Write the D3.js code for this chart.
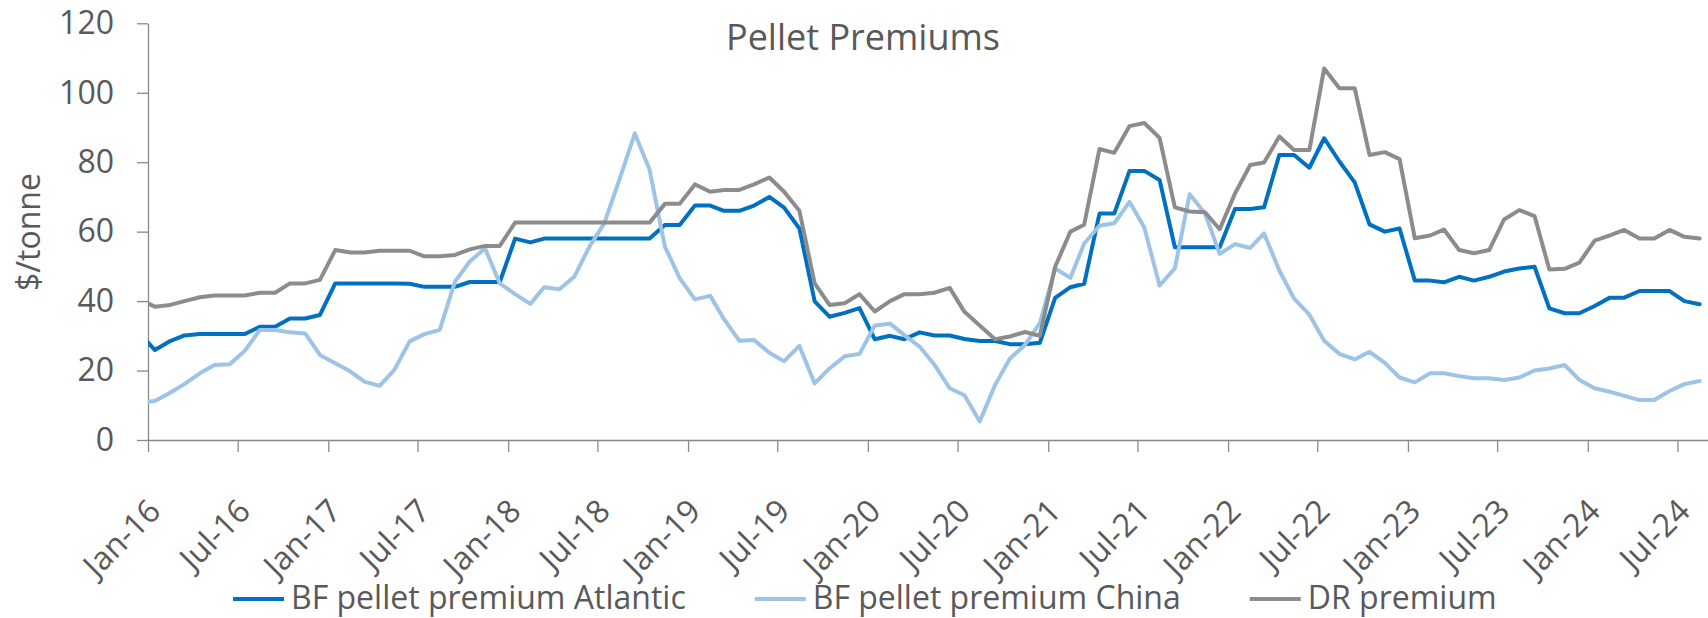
<!DOCTYPE html>
<html>
<head>
<meta charset="utf-8">
<script src="https://cdn.jsdelivr.net/npm/d3@7"></script>
<style>
  body { margin: 0; background: #fff; }
  text { font-family: "Open Sans", sans-serif; fill: #595959; }
</style>
</head>
<body>
<svg id="chart" width="1708" height="618"></svg>
<script>
"use strict";

// monthly values, mid-month, first value is Dec-15 (clipped by the axis)
var firstMonth = new Date(2015, 11, 15);

var atlantic = [30.7,
  25.9, 28.5, 30.1, 30.5, 30.5, 30.5, 30.5, 32.6, 32.6, 35.0, 35.0, 36.0,
  45.1, 45.1, 45.1, 45.1, 45.1, 45.0, 44.1, 44.1, 44.1, 45.5, 45.5, 45.5,
  58.0, 56.9, 58.0, 58.0, 58.0, 58.0, 58.0, 58.0, 58.0, 58.0, 61.9, 61.9,
  67.5, 67.5, 66.0, 66.0, 67.5, 70.0, 66.9, 60.9, 39.9, 35.5, 36.6, 38.0,
  29.0, 30.0, 29.0, 31.0, 30.1, 30.1, 29.1, 28.5, 28.5, 27.6, 27.6, 28.0,
  40.9, 44.0, 45.0, 65.2, 65.2, 77.5, 77.5, 74.9, 55.5, 55.5, 55.5, 55.5,
  66.5, 66.5, 67.0, 82.1, 82.1, 78.4, 86.9, 80.2, 74.2, 62.1, 60.0, 60.9,
  45.9, 45.9, 45.4, 47.0, 45.9, 47.0, 48.5, 49.4, 49.9, 37.9, 36.5, 36.5,
  38.6, 41.0, 41.0, 42.9, 42.9, 42.9, 40.0, 39.1];

var china = [10.8,
  11.2, 13.6, 16.1, 19.2, 21.6, 21.8, 25.6, 31.7, 31.7, 31.0, 30.7, 24.5,
  22.1, 19.7, 16.8, 15.6, 20.2, 28.4, 30.5, 31.7, 45.6, 51.4, 55.2, 45.1,
  42.0, 39.2, 44.0, 43.4, 47.0, 55.7, 62.4, 75.1, 88.3, 77.8, 55.7, 46.6,
  40.5, 41.5, 34.8, 28.6, 28.8, 25.1, 22.7, 27.1, 16.3, 20.6, 24.1, 24.8,
  33.0, 33.5, 30.2, 26.9, 21.7, 14.9, 12.9, 5.3, 15.8, 23.4, 27.4, 33.7,
  49.4, 46.7, 56.6, 61.7, 62.4, 68.6, 61.2, 44.5, 49.4, 70.8, 65.3, 53.6,
  56.4, 55.3, 59.5, 48.8, 40.7, 36.1, 28.6, 24.8, 23.2, 25.4, 22.2, 18.0,
  16.6, 19.2, 19.2, 18.4, 17.8, 17.8, 17.3, 18.0, 20.0, 20.6, 21.6, 17.3,
  14.9, 13.9, 12.7, 11.5, 11.5, 14.1, 16.1, 17.0];

var drPremium = [40.4,
  38.4, 38.9, 40.0, 41.1, 41.6, 41.6, 41.6, 42.4, 42.4, 45.1, 45.1, 46.1,
  54.7, 54.0, 54.0, 54.5, 54.5, 54.5, 52.9, 52.9, 53.3, 54.9, 55.9, 55.9,
  62.6, 62.6, 62.6, 62.6, 62.6, 62.6, 62.6, 62.6, 62.6, 62.6, 68.0, 68.0,
  73.6, 71.5, 72.0, 72.0, 73.6, 75.6, 71.5, 66.0, 45.1, 38.9, 39.4, 42.0,
  37.0, 40.0, 42.0, 42.0, 42.4, 43.8, 36.9, 33.0, 29.0, 29.8, 31.1, 30.0,
  49.9, 60.0, 62.0, 83.8, 82.7, 90.4, 91.3, 87.0, 67.0, 65.8, 65.6, 60.7,
  71.0, 79.2, 79.9, 87.4, 83.5, 83.5, 107.0, 101.3, 101.3, 82.1, 82.9, 80.9,
  58.1, 58.9, 60.6, 54.7, 53.8, 54.7, 63.5, 66.2, 64.5, 49.1, 49.3, 51.1,
  57.4, 58.9, 60.5, 58.0, 58.0, 60.5, 58.5, 58.0];

var seriesNames = ["BF pellet premium Atlantic", "BF pellet premium China", "DR premium"];
var seriesColors = ["#0070c0", "#9dc3e6", "#8c8c8c"];
var yTicks = [0, 20, 40, 60, 80, 100, 120];

var svg = d3.select("#chart");

var plotLeft = 148, plotRight = 1708, plotTop = 23.3, plotBottom = 440;

var x = d3.scaleTime()
  .domain([new Date(2016, 0, 1), new Date(2024, 8, 1)])
  .range([plotLeft, plotRight]);

var y = d3.scaleLinear()
  .domain([0, 120])
  .range([plotBottom, plotTop]);

svg.append("defs").append("clipPath")
  .attr("id", "plotClip")
  .append("rect")
    .attr("x", plotLeft).attr("y", 0)
    .attr("width", plotRight - plotLeft).attr("height", 618);

// title
svg.append("text")
  .attr("x", 863).attr("y", 50)
  .attr("text-anchor", "middle")
  .style("font-size", "36px")
  .text("Pellet Premiums");

// y axis
var yAxis = svg.append("g")
  .attr("transform", "translate(" + plotLeft + ",0)")
  .call(d3.axisLeft(y).tickValues(yTicks).tickSize(11).tickSizeOuter(0).tickPadding(23));

// x axis
var xAxis = svg.append("g")
  .attr("transform", "translate(0," + plotBottom + ")")
  .call(d3.axisBottom(x)
    .ticks(d3.timeMonth.every(6))
    .tickFormat(d3.timeFormat("%b-%y"))
    .tickSize(12).tickSizeOuter(0));

xAxis.selectAll(".tick text")
  .attr("x", 0).attr("y", 0).attr("dy", 0)
  .attr("text-anchor", "end")
  .attr("transform", "translate(14,73) rotate(-45)");

svg.selectAll(".domain, .tick line")
  .attr("stroke", "#898989")
  .attr("stroke-width", 1.3);

svg.selectAll(".tick text")
  .style("font-size", "32px")
  .attr("fill", "#595959");

// y axis title
svg.append("text")
  .attr("transform", "translate(40,232) rotate(-90)")
  .attr("text-anchor", "middle")
  .style("font-size", "32px")
  .text("$/tonne");

// lines
var allSeries = [atlantic, china, drPremium];

var line = d3.line()
  .x(function(d, i) { return x(d3.timeMonth.offset(firstMonth, i)) })
  .y(function(d) { return y(d) });

svg.append("g")
  .attr("clip-path", "url(#plotClip)")
  .selectAll("path")
  .data(allSeries)
  .enter().append("path")
    .attr("d", line)
    .attr("fill", "none")
    .attr("stroke", function(d, i) { return seriesColors[i] })
    .attr("stroke-width", 4)
    .attr("stroke-linejoin", "round")
    .attr("stroke-linecap", "round");

// legend
var legend = svg.append("g");
var lx = 233;
seriesNames.forEach(function(name, i) {
  legend.append("line")
    .attr("x1", lx).attr("x2", lx + 51)
    .attr("y1", 599).attr("y2", 599)
    .attr("stroke", seriesColors[i])
    .attr("stroke-width", 4);
  var t = legend.append("text")
    .attr("x", lx + 58).attr("y", 609)
    .style("font-size", "32px")
    .text(name);
  lx = lx + 58 + t.node().getComputedTextLength() + 69;
});
</script>
</body>
</html>
